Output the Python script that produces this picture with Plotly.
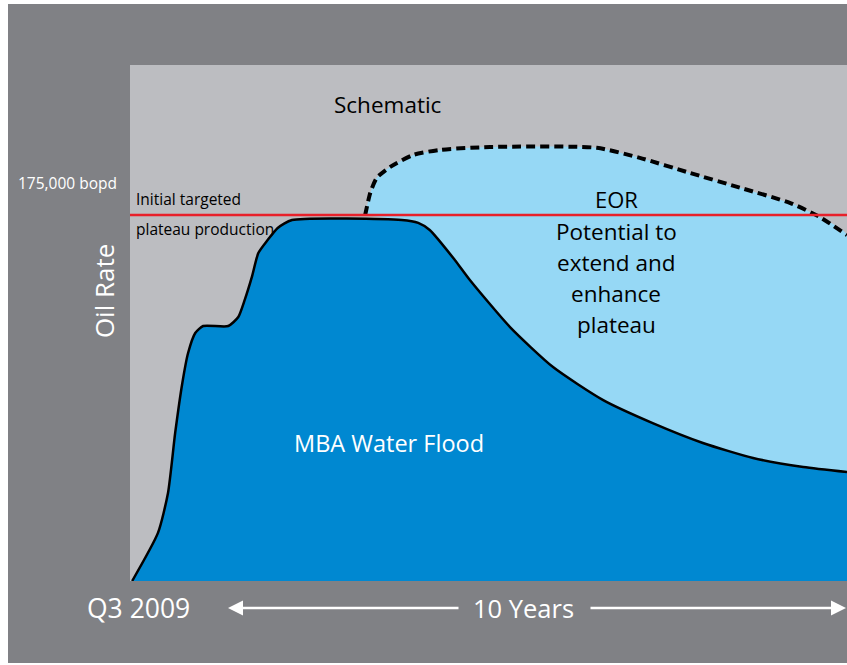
import numpy as np
import plotly.graph_objects as go

# ---------------- data (years since Q3 2009, thousand bopd) ----------------
base_years = [0.03, 0.39, 0.53, 0.63, 0.73, 0.81, 0.91, 1.02, 1.37, 1.51, 1.60, 1.70,
              1.79, 1.92, 2.06, 2.26, 3.79, 4.02, 4.18, 4.53, 4.74, 5.30, 5.90,
              6.60, 7.29, 7.99, 8.69, 9.39, 10.0]
base_rate = [0.0, 23.0, 42.1, 70.8, 94.7, 109.0, 118.6, 121.9, 121.9, 126.2, 134.4, 145.4,
             156.8, 163.0, 168.8, 172.6, 172.6, 171.2, 167.8, 153.5, 143.9, 121.4, 102.3,
             86.5, 75.5, 66.0, 58.8, 54.5, 52.1]

eor_years = [3.28, 3.35, 3.44, 3.63, 3.95, 4.32, 5.02, 6.51, 7.11, 7.81, 8.51, 9.21, 9.62, 10.0]
eor_rate = [175.0, 185.5, 192.7, 198.0, 203.7, 206.1, 207.5, 207.1, 202.3, 195.1, 188.0,
            180.7, 174.0, 165.4]

target_rate = 175.0          # 175,000 bopd initial targeted plateau
x_range = [0, 10]
y_range = [0, 246.7]

# ---------------- styling ----------------
DARK = "#808185"
LIGHT = "#bcbdc1"
BLUE = "#0088d1"
LBLUE = "#96d8f5"
RED = "#e8202a"
FONT = "Open Sans"

bx = np.array(base_years)
by = np.array(base_rate)
mask = bx > eor_years[0]
poly_x = list(eor_years) + list(bx[mask][::-1])
poly_y = list(eor_rate) + list(by[mask][::-1])

fig = go.Figure()

# EOR potential area
fig.add_trace(go.Scatter(x=poly_x, y=poly_y, fill="toself", fillcolor=LBLUE,
                         mode="lines", line=dict(width=0, shape="spline", smoothing=0.6),
                         hoverinfo="skip", showlegend=False))
# MBA water flood area
fig.add_trace(go.Scatter(x=base_years, y=base_rate, fill="tozeroy", fillcolor=BLUE,
                         mode="lines", line=dict(color="black", width=2.5, shape="spline", smoothing=0.6),
                         hoverinfo="skip", showlegend=False))
# EOR dashed outline
fig.add_trace(go.Scatter(x=eor_years, y=eor_rate, mode="lines",
                         line=dict(color="black", width=4, dash="9px,5px", shape="spline", smoothing=0.6),
                         hoverinfo="skip", showlegend=False))
# target line
fig.add_trace(go.Scatter(x=x_range, y=[target_rate, target_rate], mode="lines",
                         line=dict(color=RED, width=2.5), hoverinfo="skip", showlegend=False))

ann = []
def txt(text, x, y, size, color="#000000", xref="x", yref="y", xanchor="center", angle=0):
    ann.append(dict(text=text, x=x, y=y, xref=xref, yref=yref, showarrow=False,
                    xanchor=xanchor, yanchor="middle", textangle=angle,
                    font=dict(family=FONT, size=size, color=color)))

txt("Schematic", 3.6, 227.6, 22.5)
txt("EOR", 6.78, 182.6, 22)
for i, line in enumerate(["Potential to", "extend and", "enhance", "plateau"]):
    txt(line, 6.78, (581 - (231 + 31 * i)) * 0.4781, 22.5)
txt("MBA Water Flood", 3.61, 66.0, 23.5, color="white")
txt("Initial targeted", 0.056, 182.5, 15.5, xanchor="left")
txt("plateau production", 0.056, 168.2, 15.5, xanchor="left")
txt("175,000 bopd", (119 - 130) / 717, 190.3, 15.5, color="white", xref="paper", xanchor="right")
txt("Oil Rate", (104 - 130) / 717, 138.6, 26, color="white", xref="paper", angle=-90)
txt("Q3 2009", (138 - 130) / 717, (581 - 608) / 516, 26.5, color="white", xref="paper", yref="paper")
txt("10 Years", (523 - 130) / 717, (581 - 608) / 516, 25.5, color="white", xref="paper", yref="paper")

# arrows
ay_p = (581 - 608) / 516
ann.append(dict(x=(228 - 130) / 717, y=ay_p, xref="paper", yref="paper", text="",
                showarrow=True, ax=232, ay=0, axref="pixel", ayref="pixel",
                arrowhead=2, arrowsize=1.2, arrowwidth=2.5, arrowcolor="white"))
ann.append(dict(x=(846 - 130) / 717, y=ay_p, xref="paper", yref="paper", text="",
                showarrow=True, ax=-257, ay=0, axref="pixel", ayref="pixel",
                arrowhead=2, arrowsize=1.2, arrowwidth=2.5, arrowcolor="white"))

shapes = [
    dict(type="rect", xref="paper", yref="paper", x0=-0.3, x1=1.1, y0=(581 - 4) / 516, y1=1.3,
         fillcolor="white", line=dict(width=0)),
    dict(type="rect", xref="paper", yref="paper", x0=-0.3, x1=(8 - 130) / 717, y0=-0.3, y1=1.3,
         fillcolor="white", line=dict(width=0)),
    dict(type="rect", xref="paper", yref="paper", x0=-0.3, x1=1.1, y0=-0.3, y1=(581 - 663) / 516,
         fillcolor="white", line=dict(width=0)),
]

fig.update_layout(
    width=847, height=665,
    margin=dict(l=130, r=0, t=65, b=84),
    paper_bgcolor=DARK, plot_bgcolor=LIGHT,
    xaxis=dict(range=x_range, visible=False, fixedrange=True),
    yaxis=dict(range=y_range, visible=False, fixedrange=True),
    annotations=ann, shapes=shapes, showlegend=False,
)

fig.write_html("out.html", config={"displayModeBar": False},
               post_script="document.body.style.margin='0';document.body.style.overflow='hidden';")
